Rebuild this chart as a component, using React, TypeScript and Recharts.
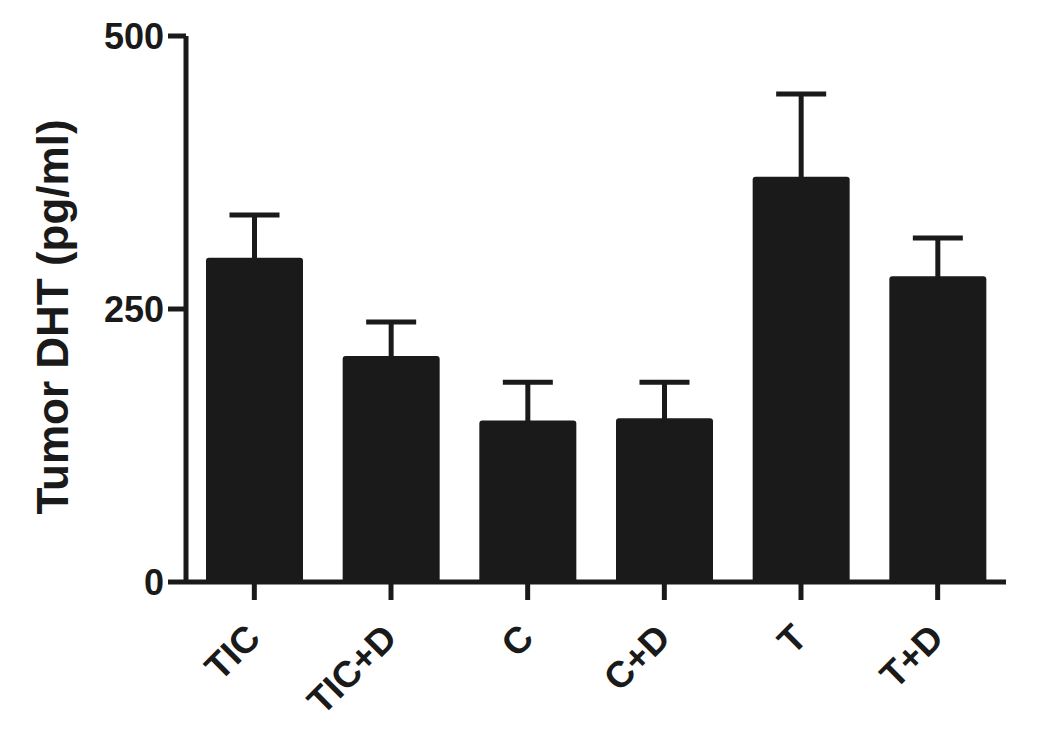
import React from 'react';
import { BarChart, Bar, XAxis, YAxis, ErrorBar } from 'recharts';

const categories = ['TIC', 'TIC+D', 'C', 'C+D', 'T', 'T+D'];
const means = [297, 207, 148, 150, 371, 280];
const sems = [39, 31, 35, 33, 76, 35];
const yTicks = [0, 250, 500];

const data = categories.map((name, i) => ({ name, value: means[i], err: sems[i] }));

const INK = '#1a1a1a';
const FONT = '"Liberation Sans", Arial, sans-serif';

const XTick = (props: any) => {
  const { x, y, payload } = props;
  const ax = x + 8;
  const ay = y + 38;
  return (
    <text
      x={ax}
      y={ay}
      transform={`rotate(-45, ${ax}, ${ay})`}
      textAnchor="end"
      fontFamily={FONT}
      fontWeight="bold"
      fontSize={37}
      fill={INK}
    >
      {payload.value}
    </text>
  );
};

const YLabel = (props: any) => {
  const { viewBox } = props;
  const cx = viewBox.x + 68;
  const cy = viewBox.y + viewBox.height / 2 + 8;
  return (
    <text
      x={cx}
      y={cy}
      transform={`rotate(-90, ${cx}, ${cy})`}
      textAnchor="middle"
      fontFamily={FONT}
      fontWeight="bold"
      fontSize={44}
      fill={INK}
    >
      Tumor DHT (pg/ml)
    </text>
  );
};

export default function App() {
  return (
    <div style={{ position: 'absolute', left: 0, top: 0, background: '#fff' }}>
      <BarChart
        width={1050}
        height={752}
        data={data}
        margin={{ top: 36, right: 44, left: 0, bottom: 0 }}
        barCategoryGap={20}
      >
        <XAxis
          dataKey="name"
          height={170}
          interval={0}
          tickSize={18}
          stroke={INK}
          strokeWidth={5}
          tick={<XTick />}
          tickLine={{ stroke: INK, strokeWidth: 5 }}
        />
        <YAxis
          width={186}
          domain={[0, 500]}
          ticks={yTicks}
          tickSize={18}
          tickMargin={4}
          stroke={INK}
          strokeWidth={5}
          tickLine={{ stroke: INK, strokeWidth: 5 }}
          tick={{ fontFamily: FONT, fontWeight: 'bold', fontSize: 36, fill: INK }}
          label={<YLabel />}
        />
        <Bar dataKey="value" fill={INK} radius={[3, 3, 0, 0]} isAnimationActive={false}>
          <ErrorBar dataKey="err" width={25} stroke={INK} strokeWidth={5} direction="y" isAnimationActive={false} />
        </Bar>
      </BarChart>
    </div>
  );
}
